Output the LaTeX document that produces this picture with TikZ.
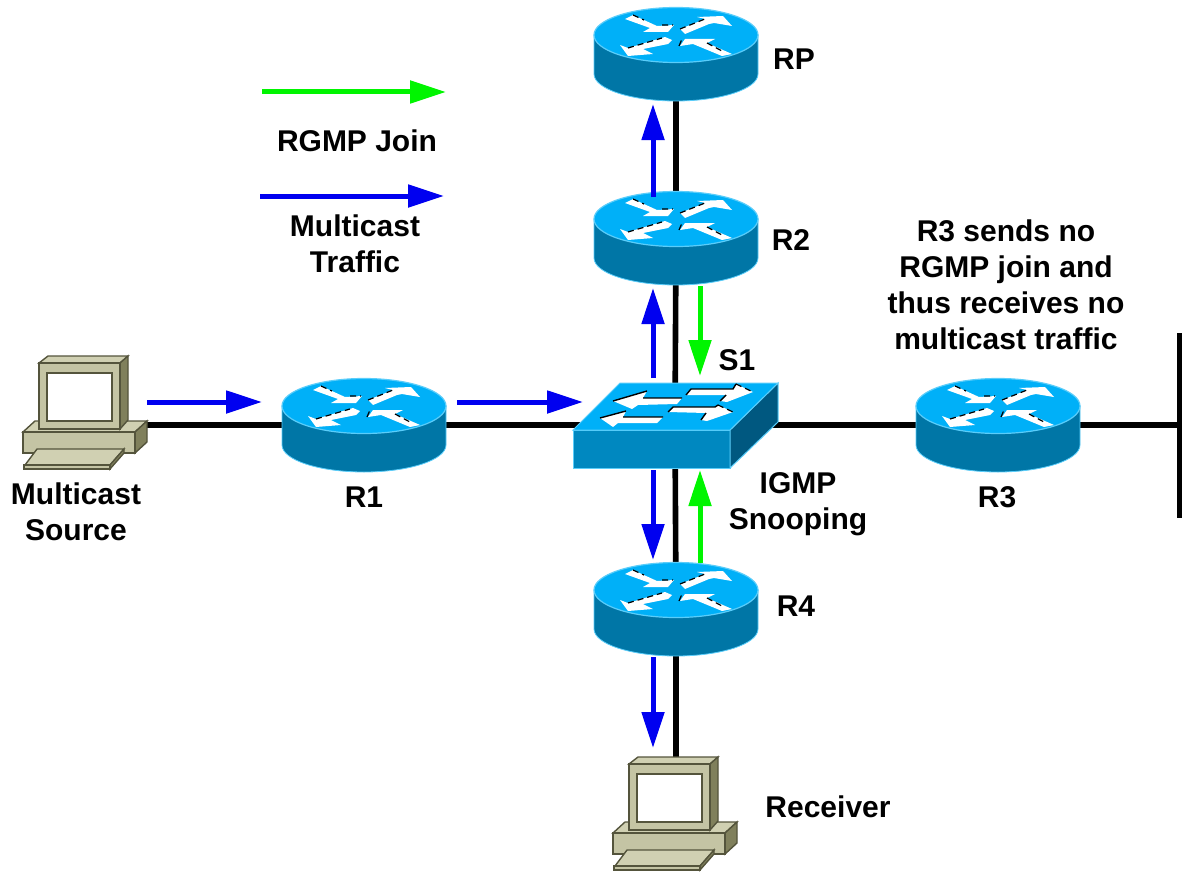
\documentclass[tikz,border=0pt]{standalone}
\usepackage{fontspec}
\setmainfont{Liberation Sans}
\usetikzlibrary{arrows.meta}
\definecolor{rtop}{RGB}{0,176,248}
\definecolor{rside}{RGB}{0,118,166}
\definecolor{redge}{RGB}{90,205,250}
\definecolor{sfront}{RGB}{0,136,192}
\definecolor{sside}{RGB}{0,88,128}
\definecolor{pcfront}{RGB}{196,196,164}
\definecolor{pctop}{RGB}{208,208,178}
\definecolor{pcside}{RGB}{128,128,92}
\definecolor{pcedge}{RGB}{84,84,60}
\definecolor{rgmpgreen}{RGB}{0,245,0}
\definecolor{mcastblue}{RGB}{0,0,240}
\tikzset{
  dev/.style={inner sep=0pt,minimum size=0pt,outer sep=0pt},
  wire/.style={line width=2.8pt,black},
  flow/.style={line width=2.5pt,-{Triangle[length=18pt,width=11pt]}},
  rgmpflow/.style={flow,rgmpgreen},
  mcast/.style={flow,mcastblue},
  lbl/.style={font=\fontsize{15}{18}\selectfont\bfseries,align=center,inner sep=0pt},
  whitearrow/.style={fill=white,draw=none},
  router/.pic={
    \path[fill=rside,draw=redge,line width=0.4pt] (-82,-19) -- (-82,20) arc[start angle=180,end angle=0,x radius=82,y radius=27] -- (82,-19) -- cycle;
    \path[fill=rtop,draw=redge,line width=0.6pt] (0,-19) ellipse[x radius=82,y radius=27.5];
    \begin{scope}[shift={(0,-19)}]
      \fill[whitearrow] (-51,-16) -- (-43,-20) -- (-19,-9) -- (-2,-10) -- (-8,-3) -- (-33,-3) -- (-26,-7) -- cycle;
      \fill[whitearrow] (4,-6) -- (29,-16) -- (21,-18) -- (47,-19) -- (56,-9) -- (38,-12) -- (33,-11) -- (9,-1) -- cycle;
      \fill[whitearrow] (-4,5) -- (-11,2) -- (-48,13) -- (-56,10) -- (-48,21) -- (-23,19) -- (-33,14) -- (-8,9) -- cycle;
      \fill[whitearrow] (4,11) -- (9,4) -- (39,4) -- (31,8) -- (56,19) -- (46,21) -- (17,9) -- cycle;
      \draw[densely dashed,line width=0.6pt] (-43,-20) -- (-32,-15) (-14,-10) -- (-3,-10);
      \draw[densely dashed,line width=0.6pt] (4,-6) -- (29,-16);
      \draw[densely dashed,line width=0.6pt] (-48,13) -- (-14,3);
      \draw[densely dashed,line width=0.6pt] (31,8) -- (46,16) (3,11) -- (6,4);
    \end{scope}
  },
  switch/.pic={
    \path[fill=sfront,draw=redge,line width=0.5pt] (-102,5) -- (55,5) -- (55,43) -- (-102,43) -- cycle;
    \path[fill=sside,draw=redge,line width=0.5pt] (55,5) -- (103,-42) -- (103,-3) -- (55,43) -- cycle;
    \path[fill=rtop,draw=redge,line width=0.5pt] (-55,-42) -- (103,-42) -- (55,5) -- (-102,5) -- cycle;
    \fill[white] (-62,-24) -- (-28,-34) -- (-32,-27) -- (7,-27) -- (2,-21) -- (-37,-20) -- (-43,-16) -- cycle;
    \fill[white] (-75,-7) -- (-49,-14) -- (-52,-8) -- (-12,-8) -- (-18,-2) -- (-57,-2) -- (-62,2) -- cycle;
    \fill[white] (11,-30) -- (16,-36) -- (58,-36) -- (61,-41) -- (78,-33) -- (52,-23) -- (45,-24) -- (51,-30) -- cycle;
    \fill[white] (-7,-13) -- (-2,-18) -- (40,-18) -- (43,-20) -- (58,-13) -- (32,-4) -- (26,-5) -- (31,-12) -- cycle;
    \draw[line width=0.7pt] (-62,-24) -- (-28,-34) (-32,-27) -- (7,-27);
    \draw[line width=0.7pt] (-75,-7) -- (-49,-14) (-52,-8) -- (-12,-8);
    \draw[line width=0.7pt] (11,-30) -- (16,-36) -- (58,-36) -- (61,-41) (51,-30) -- (45,-24);
    \draw[line width=0.7pt] (-7,-13) -- (-2,-18) -- (40,-18) -- (43,-20) (31,-12) -- (26,-5);
    \draw[densely dashed,line width=0.6pt] (61,-41) -- (78,-33) (43,-20) -- (58,-13);
  },
  computer/.pic={
    \begin{scope}[draw=pcedge,line width=0.7pt]
      \draw[fill=pctop] (-63,7) -- (-51,-4) -- (61,-4) -- (49,7) -- cycle;
      \draw[fill=pcside] (49,7) -- (61,-4) -- (61,17) -- (49,28) -- cycle;
      \draw[fill=pcfront] (-63,7) -- (49,7) -- (49,28) -- (-63,28) -- cycle;
      \draw[fill=pctop] (-61,40) -- (-49,24) -- (38,24) -- (24,40) -- cycle;
      \draw[fill=pcside] (24,40) -- (38,24) -- (38,28) -- (24,44) -- cycle;
      \draw[fill=pcfront] (-62,40) -- (24,40) -- (24,44) -- (-62,44) -- cycle;
      \draw[fill=pctop] (-47,-62) -- (-38,-69) -- (42,-69) -- (34,-62) -- cycle;
      \draw[fill=pcside] (34,-62) -- (42,-69) -- (42,-5) -- (34,4) -- cycle;
      \draw[fill=pcfront] (-47,-62) -- (34,-62) -- (34,4) -- (-47,4) -- cycle;
      \draw[fill=white,line width=1pt] (-39,-52) -- (26,-52) -- (26,-4) -- (-39,-4) -- cycle;
    \end{scope}
  }
}
\begin{document}
\begin{tikzpicture}[x=0.5pt,y=-0.5pt]
\useasboundingbox (0,0) rectangle (1182,872);
% devices
\node[dev] (source) at (86,425) {};
\node[dev] (r1) at (364,425) {};
\node[dev] (s1) at (675,425) {};
\node[dev] (r3) at (998,425) {};
\node[dev] (rp) at (676,54) {};
\node[dev] (r2) at (676,238) {};
\node[dev] (r4) at (676,609) {};
\node[dev] (receiver) at (676,826) {};
\coordinate (lanright) at (1180,425);
\coordinate (lantop) at (1180,333);
\coordinate (lanbot) at (1180,518);
% links
\draw[wire] (source) edge (r1);
\draw[wire] (r1) edge (s1);
\draw[wire] (s1) edge (r3);
\draw[wire] (r3) edge (lanright);
\draw[wire] (lantop) edge (lanbot);
\draw[wire] (rp) edge (r2);
\draw[wire] (r2) edge (s1);
\draw[wire] (s1) edge (r4);
\draw[wire] (r4) edge (receiver);

\pic at (rp) {router};
\pic at (r2) {router};
\pic at (r1) {router};
\pic at (r3) {router};
\pic at (r4) {router};
\pic at (s1) {switch};
\pic at (source) {computer};
\pic at (receiver) {computer};

% flows
\coordinate (b1) at (147,402);
\coordinate (b2) at (262,402);
\coordinate (b3) at (457,402);
\coordinate (b4) at (583,402);
\coordinate (b5) at (653,197);
\coordinate (b6) at (653,104);
\coordinate (b7) at (653,378);
\coordinate (b8) at (653,288);
\coordinate (b9) at (653,470);
\coordinate (b10) at (653,560);
\coordinate (b11) at (653,657);
\coordinate (b12) at (653,748);
\coordinate (g1) at (700,286);
\coordinate (g2) at (700,376);
\coordinate (g3) at (700,563);
\coordinate (g4) at (700,470);
\draw[mcast] (b1) -- (b2);
\draw[mcast] (b3) -- (b4);
\draw[mcast] (b5) -- (b6);
\draw[mcast] (b7) -- (b8);
\draw[mcast] (b9) -- (b10);
\draw[mcast] (b11) -- (b12);
\draw[rgmpflow] (g1) -- (g2);
\draw[rgmpflow] (g3) -- (g4);

% legend
\coordinate (lg1) at (262,92);
\coordinate (lg2) at (446,92);
\coordinate (lb1) at (260,196);
\coordinate (lb2) at (444,196);
\draw[rgmpflow] (lg1) -- (lg2);
\draw[mcast] (lb1) -- (lb2);

% labels
\node[lbl] (lrp) at (794,59) {RP};
\node[lbl] (lr2) at (791,240) {R2};
\node[lbl] (lr1) at (364,497) {R1};
\node[lbl] (lr3) at (997,497) {R3};
\node[lbl] (lr4) at (796,606) {R4};
\node[lbl] (ls1) at (737,360) {S1};
\node[lbl] (lsource) at (76,512) {Multicast\\Source};
\node[lbl] (lsnoop) at (798,504) {IGMP\\Snooping};
\node[lbl] (lrecv) at (828,807) {Receiver};
\node[lbl] (ljoin) at (357,141) {RGMP Join};
\node[lbl] (ltraffic) at (355,244) {Multicast\\Traffic};
\node[lbl] (lnote) at (1006,285) {R3 sends no\\RGMP join and\\thus receives no\\multicast traffic};
\end{tikzpicture}
\end{document}
